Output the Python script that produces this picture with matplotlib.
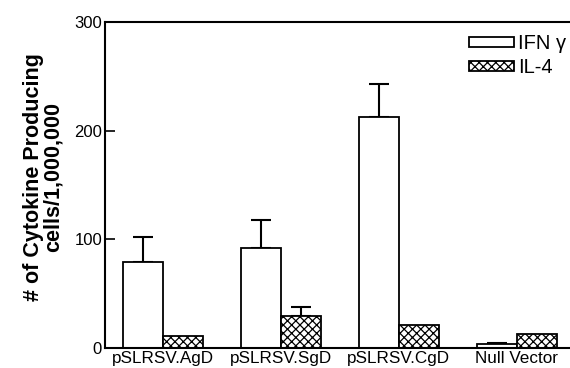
import numpy as np
import matplotlib
matplotlib.use("Agg")
import matplotlib.pyplot as plt

plt.rcParams['font.family'] = ['Liberation Sans', 'DejaVu Sans']
plt.rcParams['hatch.linewidth'] = 0.9

# data
groups = ['pSLRSV.AgD', 'pSLRSV.SgD', 'pSLRSV.CgD', 'Null Vector']
ifn = [79, 92, 213, 4]
ifn_err = [23, 26, 30, 1]
il4 = [11, 29.5, 21, 13]
il4_err = [0, 8, 0, 0]
yticks = [0, 100, 200, 300]

fig = plt.figure(figsize=(5.7, 3.68), dpi=100)
ax = fig.add_axes([0.184, 0.054, 0.816, 0.886])

x = np.arange(len(groups))
w = 0.34

ax.bar(x - w / 2, ifn, w, color='white', edgecolor='black', lw=1.3,
       label='IFN \u03b3', zorder=2)
ax.bar(x + w / 2, il4, w, color='white', edgecolor='black', lw=1.3,
       hatch='xxxx', label='IL-4', zorder=2)

# one-sided (upper) error bars
ax.errorbar(x - w / 2, ifn, yerr=[np.zeros(len(ifn)), ifn_err], fmt='none',
            ecolor='black', elinewidth=1.5, capsize=7.5, capthick=1.5, zorder=1)
err_idx = [i for i, e in enumerate(il4_err) if e > 0]
ax.errorbar(x[err_idx] + w / 2, [il4[i] for i in err_idx],
            yerr=[[0] * len(err_idx), [il4_err[i] for i in err_idx]],
            fmt='none', ecolor='black', elinewidth=1.5, capsize=7.5,
            capthick=1.5, zorder=1)

ax.set_xlim(-0.49, 3.45)
ax.set_ylim(0, 300)
ax.set_yticks(yticks)
ax.set_xticks(x)
ax.set_xticklabels(groups, fontsize=12.3)
ax.tick_params(axis='x', length=0, pad=2)
ax.tick_params(axis='y', direction='in', length=7, width=1.2, labelsize=12, pad=2)

ax.spines['right'].set_visible(False)
for s in ['left', 'top', 'bottom']:
    ax.spines[s].set_linewidth(1.5)

fig.text(0.076, 0.52, '# of Cytokine Producing\ncells/1,000,000', rotation=90,
         ha='center', va='center', fontsize=15.5, fontweight='bold',
         linespacing=0.95, multialignment='center')

ax.legend(loc='upper right', bbox_to_anchor=(1.0, 0.975), frameon=False,
          fontsize=14.5, handlelength=2.25, handleheight=0.4, handletextpad=0.2,
          labelspacing=0.25, borderaxespad=0.0, borderpad=0.2)

fig.savefig('out.png', dpi=100)
